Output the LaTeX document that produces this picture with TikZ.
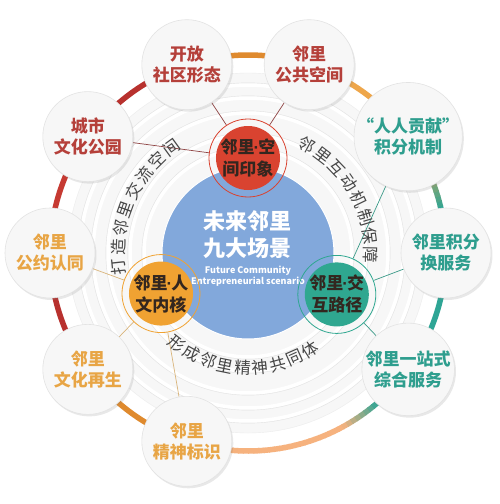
\documentclass[tikz,border=0pt]{standalone}
\usepackage{fontspec}
\setmainfont{Noto Sans CJK SC}
\newfontfamily\cjk{Noto Sans CJK SC}
\newfontfamily\lat{Liberation Sans}
\newcommand{\cdotx}{{\lat\bfseries\kern-1pt·\kern-1pt}}
\usetikzlibrary{shadows}
\pgfdeclarelayer{bg}
\pgfsetlayers{bg,main}
\definecolor{cBlue}{HTML}{82A8DB}
\definecolor{cRedIn}{HTML}{D94330}
\definecolor{cOrIn}{HTML}{F0A232}
\definecolor{cTealIn}{HTML}{2FA790}
\definecolor{cRedT}{HTML}{B5403A}
\definecolor{cTealT}{HTML}{2E9E8E}
\definecolor{cOrT}{HTML}{E8A545}
\definecolor{cDark}{HTML}{33261F}
\definecolor{aRed}{HTML}{B8312E}
\definecolor{aRed2}{HTML}{C63A32}
\definecolor{aOr}{HTML}{DF8A2E}
\definecolor{aOr2}{HTML}{EEA64A}
\definecolor{aPeach}{HTML}{F6B27E}
\definecolor{aTeal}{HTML}{2EA595}
\definecolor{lRed}{HTML}{8E4242}
\definecolor{lOr}{HTML}{D9B47A}
\definecolor{lTeal}{HTML}{3B9A88}
\tikzset{
  outer/.style={circle, minimum size=90, inner sep=0, fill=gray!6, draw=gray!22, line width=0.6,
    drop shadow={opacity=0.18, shadow xshift=1.5pt, shadow yshift=-2pt},
    font=\bfseries\fontsize{17}{21}\selectfont, align=center},
  inner/.style={circle, minimum size=78, inner sep=0, draw=#1, line width=0.8, align=center,
    text=cDark, font=\bfseries\fontsize{17}{22}\selectfont,
    path picture={\fill[#1] (path picture bounding box.center) circle (32);}},
  arctext/.style={inner sep=0, text=gray!55!black, font=\fontsize{16.5}{16.5}\selectfont},
  ring/.style={line width=5.5},
  conn/.style={line width=0.7}
}
\begin{document}
\begin{tikzpicture}[x=1pt,y=1pt,font=\cjk]
\useasboundingbox (-248,-251) rectangle (252,253);
\begin{pgfonlayer}{bg}
\fill[white] (-248,-251) rectangle (252,253);
% concentric background rings
\fill[gray!6] (0,0) circle (180);
\foreach \r in {104,118,140,155,168}{
  \draw[white, line width=3.5] (0,0) circle (\r);
  \draw[gray!22, line width=0.4] (0,0) circle (\r+2.2);
}
\draw[gray!15, line width=0.4] (0,0) circle (180);
% outer ring arc
\draw[ring, aOr] (72:198) arc[start angle=72, end angle=108, radius=198];
\draw[ring, aOr2] (36:198) arc[start angle=36, end angle=72, radius=198];
\draw[ring, aRed] (108:198) arc[start angle=108, end angle=144, radius=198];
\draw[ring, aRed2] (144:198) arc[start angle=144, end angle=180, radius=198];
\draw[ring, aRed] (180:198) arc[start angle=180, end angle=216, radius=198];
\draw[ring, aOr] (216:198) arc[start angle=216, end angle=252, radius=198];
\draw[ring, aTeal] (-36:198) arc[start angle=-36, end angle=0, radius=198];
\foreach \a in {0,1.5,...,34.5}{
  \pgfmathtruncatemacro\p{max(0,min(100,(30-\a)/18*100))}
  \draw[ring, draw={aTeal!\p!aOr2}] (\a:198) arc[start angle=\a, end angle=\a+1.8, radius=198];
}
\foreach \a in {252,253.5,...,322.5}{
  \pgfmathtruncatemacro\o{max(0,min(100,(266-\a)/14*100))}
  \pgfmathtruncatemacro\t{max(0,min(100,(\a-298)/12*100))}
  \colorlet{tmpc}{aOr!\o!aPeach}
  \draw[ring, draw={aTeal!\t!tmpc}] (\a:198) arc[start angle=\a, end angle=\a+1.8, radius=198];
}
\end{pgfonlayer}
% center
\node[circle, minimum size=172, inner sep=0, fill=cBlue, draw=white, line width=1] (c) at (0,0) {};
\node[text=white, font=\bfseries\fontsize{22}{27}\selectfont, align=center] (ct) at (0,18) {未来邻里\\九大场景};
\node[text=white, font=\bfseries\fontsize{9}{11}\selectfont, align=center] (ce) at (0,-23.5) {Future Community\\Entrepreneurial scenario};
% curved texts
\foreach \ch [count=\i from 0] in {打,造,邻,里,交,流,空,间}{
  \pgfmathsetmacro\ang{186-8.57*\i}
  \node[arctext, rotate=\ang-90] (L\i) at (\ang:130) {\ch};
}
\foreach \ch [count=\i from 0] in {邻,里,互,动,机,制,保,障}{
  \pgfmathsetmacro\ang{61.7-8.96*\i}
  \node[arctext, rotate=\ang-90] (R\i) at (\ang:123) {\ch};
}
\foreach \ch [count=\i from 0] in {形,成,邻,里,精,神,共,同,体}{
  \pgfmathsetmacro\ang{232+8.84*\i}
  \node[arctext, rotate=\ang+90] (B\i) at (\ang:115) {\ch};
}
% inner circles
\node[inner=cRedIn] (ired) at (90:95) {邻里\cdotx 空\\间印象};
\node[inner=cOrIn] (ior) at (205:96) {邻里\cdotx 人\\文内核};
\node[inner=cTealIn] (iteal) at (335:98) {邻里\cdotx 交\\互路径};
% outer circles
\node[outer, text=cRedT] (kf) at (108:198) {开放\\社区形态};
\node[outer, text=cRedT] (gg) at (72:198) {邻里\\公共空间};
\node[outer, text=cRedT] (cs) at (144:198) {城市\\文化公园};
\node[outer, text=cTealT] (rr) at (36:198) {“人人贡献”\\积分机制};
\node[outer, text=cTealT] (jf) at (0:198) {邻里积分\\换服务};
\node[outer, text=cTealT] (yz) at (324:198) {邻里一站式\\综合服务};
\node[outer, text=cOrT] (gy) at (180:198) {邻里\\公约认同};
\node[outer, text=cOrT] (wh) at (216:198) {邻里\\文化再生};
\node[outer, text=cOrT] (js) at (252:198) {邻里\\精神标识};
% connectors
\begin{pgfonlayer}{bg}
\draw[conn, lRed] (ired) -- (kf);
\draw[conn, lRed] (ired) -- (gg);
\draw[conn, lRed] (ired) -- (cs);
\draw[conn, lOr] (ior) -- (gy);
\draw[conn, lOr] (ior) -- (wh);
\draw[conn, lOr] (ior) -- (js);
\draw[conn, lTeal] (iteal) -- (rr);
\draw[conn, lTeal] (iteal) -- (jf);
\draw[conn, lTeal] (iteal) -- (yz);
\end{pgfonlayer}
\end{tikzpicture}
\end{document}
